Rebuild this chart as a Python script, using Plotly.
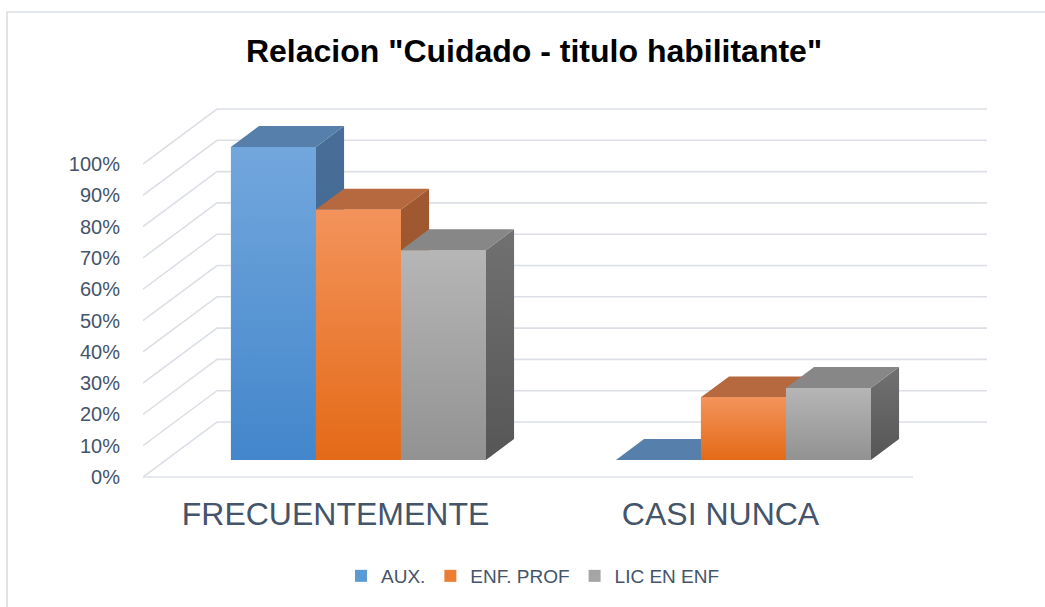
import plotly.graph_objects as go

# ---------------- data ----------------
categories = ["FRECUENTEMENTE", "CASI NUNCA"]
series_names = ["AUX.", "ENF. PROF", "LIC EN ENF"]
aux = [100, 0]
enf_prof = [80, 20]
lic_en_enf = [67, 23]
y_tick_values = [0, 10, 20, 30, 40, 50, 60, 70, 80, 90, 100]
y_tick_labels = ["0%", "10%", "20%", "30%", "40%", "50%", "60%", "70%", "80%", "90%", "100%"]

series_values = [aux, enf_prof, lic_en_enf]

# ---------------- styles / projection ----------------
front_colors = [("#4386CB", "#72A7DD"), ("#E46A17", "#F3935B"), ("#929292", "#B6B6B6")]
mid_colors = ["#5B9BD5", "#ED7D31", "#A5A5A5"]
top_colors = ["#5680AB", "#B6693E", "#878787"]
side_colors = [("#3F6690", "#486E97"), ("#955030", "#A0592F"), ("#565656", "#717171")]

DEPTH_X = 74 / 385.0      # x units per full depth
DEPTH_Y = 55 / 3.13       # y units (%) per full depth
D0, D1 = 0.31, 0.69       # bar depth span
BAR_W = 85 / 385.0
X_MIN = -0.5
X_MAX = 1.5 + DEPTH_X
Y_MIN = -3 / 3.13
Y_MAX = 377 / 3.13

PLOT_L, PLOT_T = 143, 100
PLOT_W = (X_MAX - X_MIN) * 385
PLOT_H = (Y_MAX - Y_MIN) * 3.13
FIG_W, FIG_H = 1045, 607

text_color = "#44546A"
grid_color = "#DCE0E6"

fig = go.Figure()

# gridlines (side wall diagonals + back wall horizontals) and floor front edge
gx, gy = [], []
for v in y_tick_values:
    gx += [X_MIN, X_MIN + DEPTH_X, X_MAX, None]
    gy += [v, v + DEPTH_Y, v + DEPTH_Y, None]
gx += [X_MIN, 1.5, None]
gy += [0, 0, None]
fig.add_trace(go.Scatter(x=gx, y=gy, mode="lines", line=dict(color=grid_color, width=1.6),
                         hoverinfo="skip", showlegend=False))

ddx = (D1 - D0) * DEPTH_X
ddy = (D1 - D0) * DEPTH_Y
yb = D0 * DEPTH_Y

# legend-bearing bars (front faces)
for k, (name, vals) in enumerate(zip(series_names, series_values)):
    xs = [i + (k - 1) * BAR_W + D0 * DEPTH_X for i in range(len(categories))]
    fig.add_trace(go.Bar(x=xs, y=vals, base=[yb] * len(vals), width=BAR_W, name=name,
                         marker=dict(color=mid_colors[k], line=dict(width=0)),
                         customdata=categories,
                         hovertemplate="%{customdata}<br>" + name + ": %{y}%<extra></extra>"))

# 3D faces, painter's order
for i in range(len(categories)):
    for k, vals in enumerate(series_values):
        v = vals[i]
        xl = i + (k - 1.5) * BAR_W + D0 * DEPTH_X
        xr = xl + BAR_W
        yt = yb + v
        # side face
        fig.add_trace(go.Scatter(
            x=[xr, xr + ddx, xr + ddx, xr, xr], y=[yb, yb + ddy, yt + ddy, yt, yb],
            mode="lines", fill="toself", line=dict(width=0, color=side_colors[k][1]),
            fillgradient=dict(type="vertical",
                              colorscale=[[0, side_colors[k][0]], [1, side_colors[k][1]]]),
            hoverinfo="skip", showlegend=False))
        # top face
        fig.add_trace(go.Scatter(
            x=[xl, xr, xr + ddx, xl + ddx, xl], y=[yt, yt, yt + ddy, yt + ddy, yt],
            mode="lines", fill="toself", line=dict(width=0, color=top_colors[k]),
            fillcolor=top_colors[k], hoverinfo="skip", showlegend=False))
        # front face
        if v > 0:
            fig.add_trace(go.Scatter(
                x=[xl, xr, xr, xl, xl], y=[yb, yb, yt, yt, yb],
                mode="lines", fill="toself", line=dict(width=0, color=front_colors[k][1]),
                fillgradient=dict(type="vertical",
                                  colorscale=[[0, front_colors[k][0]], [1, front_colors[k][1]]]),
                hoverinfo="skip", showlegend=False))


def px_to_paper_x(px):
    return (px - PLOT_L) / PLOT_W


def px_to_paper_y(py):
    return (PLOT_T + PLOT_H - py) / PLOT_H


fig.update_layout(
    width=FIG_W, height=FIG_H,
    margin=dict(l=PLOT_L, r=FIG_W - PLOT_L - PLOT_W, t=PLOT_T, b=FIG_H - PLOT_T - PLOT_H, pad=0),
    paper_bgcolor="white", plot_bgcolor="white",
    barmode="overlay",
    font=dict(family="Liberation Sans, Arial, sans-serif", color=text_color),
    title=dict(text='Relacion "Cuidado - titulo habilitante"',
               font=dict(family="Liberation Sans, Arial, sans-serif", size=32, color="#000000",
                         weight="bold"),
               x=534 / FIG_W, xref="container", xanchor="center",
               y=1 - 51 / FIG_H, yref="container", yanchor="middle"),
    xaxis=dict(range=[X_MIN, X_MAX], tickvals=[0, 1], ticktext=categories,
               tickfont=dict(size=32, color=text_color), showgrid=False, zeroline=False,
               showline=False, ticks="outside", ticklen=6, tickcolor="rgba(0,0,0,0)",
               fixedrange=True),
    yaxis=dict(range=[Y_MIN, Y_MAX], tickvals=y_tick_values, ticktext=y_tick_labels,
               tickfont=dict(size=20, color=text_color), showgrid=False, zeroline=False,
               showline=False, ticks="outside", ticklen=18, tickcolor="rgba(0,0,0,0)",
               fixedrange=True),
    legend=dict(orientation="h", x=px_to_paper_x(533), xanchor="center",
                y=px_to_paper_y(576), yanchor="middle",
                font=dict(size=19, color=text_color), traceorder="normal"),
    shapes=[dict(type="rect", xref="paper", yref="paper", layer="below",
                 x0=px_to_paper_x(7), x1=px_to_paper_x(1070),
                 y0=px_to_paper_y(640), y1=px_to_paper_y(12),
                 line=dict(color="#D9DDE3", width=1.6), fillcolor="rgba(0,0,0,0)")],
)

fig.write_html("out.html", config={"displayModeBar": False},
               post_script="document.body.style.margin='0';document.body.style.overflow='hidden';")
